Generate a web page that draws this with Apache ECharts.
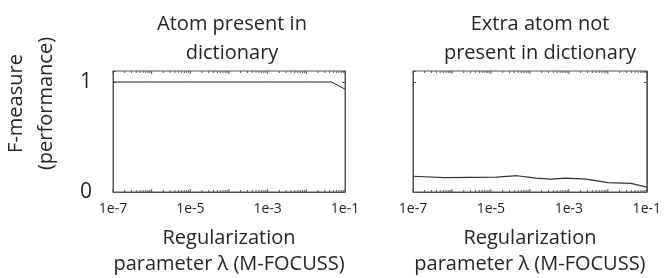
<!DOCTYPE html>
<html>
<head>
<meta charset="utf-8">
<script src="https://cdn.jsdelivr.net/npm/echarts@6/dist/echarts.min.js"></script>
<style>
  html, body { margin: 0; padding: 0; background: #fff; }
  #chart { width: 664px; height: 278px; }
</style>
</head>
<body>
<div id="chart"></div>
<script>
// 数据：正则化参数 λ 与 F-measure
const lambdaPresent = [1e-7, 1e-6, 1e-5, 1e-4, 1e-3, 1e-2, 4.5e-2, 1e-1]
const fPresent = [1, 1, 1, 1, 1, 1, 1, 0.935]

const lambdaExtra = [1e-7, 6.5e-7, 1.4e-5, 4.7e-5, 1.4e-4, 3.4e-4, 8.3e-4, 2.8e-3, 1e-2, 3.9e-2, 1e-1]
const fExtra = [0.143, 0.13, 0.135, 0.148, 0.126, 0.117, 0.126, 0.117, 0.085, 0.079, 0.045]

const titles = ['Atom present in\ndictionary', 'Extra atom not\npresent in dictionary']
const xLabels = ['1e-7', '1e-5', '1e-3', '1e-1']
const xName = 'Regularization\nparameter λ (M-FOCUSS)'
const yName = 'F-measure\n(performance)'

const FONT = 'Open Sans'
const TXT = '#262626'
const FRAME = '#555'

// 对数轴次刻度位置
const logTicks = []
for (let e = -7; e <= -1; e++) {
  for (let k = 1; k <= 9; k++) {
    const v = k * Math.pow(10, e)
    if (v > 0.1 + 1e-12) break
    logTicks.push([v, k === 1 ? 1 : 0])
  }
}

const chart = echarts.init(document.getElementById('chart'))

const grids = [
  { left: 109, top: 71, width: 236, height: 121, show: true, borderColor: FRAME, borderWidth: 1 },
  { left: 413, top: 71, width: 236, height: 121, show: true, borderColor: FRAME, borderWidth: 1 }
]

function makeXAxis(i) {
  return {
    type: 'log',
    gridIndex: i,
    logBase: 10,
    min: 1e-7,
    max: 1e-1,
    name: xName,
    nameLocation: 'middle',
    nameGap: 33,
    nameTextStyle: { fontFamily: FONT, fontSize: 20, color: TXT, lineHeight: 26 },
    axisLine: { show: true, lineStyle: { color: FRAME } },
    axisTick: { show: false },
    splitLine: { show: false },
    axisLabel: {
      fontFamily: FONT,
      fontSize: 14,
      color: TXT,
      margin: 10,
      formatter: function (v) {
        const e = Math.round(Math.log10(v))
        const s = '1e' + e
        return xLabels.indexOf(s) >= 0 ? s : ''
      }
    }
  }
}

function makeYAxis(i, showName, pos) {
  return {
    type: 'value',
    gridIndex: i,
    position: pos,
    min: 0,
    max: 1.1,
    interval: 1,
    name: showName ? yName : '',
    nameLocation: 'middle',
    nameGap: 52,
    nameRotate: 90,
    nameTextStyle: { fontFamily: FONT, fontSize: 20, color: TXT, lineHeight: 30, padding: [0, 0, 0, 56] },
    axisLine: { show: true, lineStyle: { color: FRAME } },
    axisTick: { show: true, inside: true, length: 3, lineStyle: { color: FRAME } },
    splitLine: { show: false },
    axisLabel: {
      show: showName && pos === 'left',
      fontFamily: FONT,
      fontSize: 21,
      color: TXT,
      margin: 21,
      formatter: function (v) { return (v === 0 || v === 1) ? String(v) : '' }
    }
  }
}

function tickSeries(xi, yi) {
  return {
    type: 'custom',
    xAxisIndex: xi,
    yAxisIndex: yi,
    silent: true,
    clip: false,
    data: logTicks,
    renderItem: function (params, api) {
      const x = api.coord([api.value(0), 0])[0]
      const yb = api.coord([1e-7, 0])[1]
      const yt = api.coord([1e-7, 1.1])[1]
      const len = api.value(1) ? 3 : 2
      const style = { stroke: FRAME, lineWidth: 1 }
      return {
        type: 'group',
        children: [
          { type: 'line', shape: { x1: x, y1: yb, x2: x, y2: yb - len }, style: style },
          { type: 'line', shape: { x1: x, y1: yt, x2: x, y2: yt + len }, style: style }
        ]
      }
    }
  }
}

chart.setOption({
  animation: false,
  title: [
    { text: titles[0], left: 227, top: 5, textAlign: 'center',
      textStyle: { fontFamily: FONT, fontSize: 20, fontWeight: 'normal', color: TXT, lineHeight: 29 } },
    { text: titles[1], left: 535, top: 5, textAlign: 'center',
      textStyle: { fontFamily: FONT, fontSize: 20, fontWeight: 'normal', color: TXT, lineHeight: 29 } }
  ],
  grid: grids,
  xAxis: [makeXAxis(0), makeXAxis(1)],
  yAxis: [
    makeYAxis(0, true, 'left'),
    makeYAxis(0, false, 'right'),
    makeYAxis(1, false, 'left'),
    makeYAxis(1, false, 'right')
  ],
  series: [
    {
      type: 'line',
      xAxisIndex: 0,
      yAxisIndex: 0,
      data: lambdaPresent.map((x, i) => [x, fPresent[i]]),
      symbol: 'none',
      lineStyle: { color: '#222', width: 1 }
    },
    {
      type: 'line',
      xAxisIndex: 1,
      yAxisIndex: 2,
      data: lambdaExtra.map((x, i) => [x, fExtra[i]]),
      symbol: 'none',
      lineStyle: { color: '#333', width: 1.2 }
    },
    tickSeries(0, 0),
    tickSeries(1, 2)
  ]
})
</script>
</body>
</html>
